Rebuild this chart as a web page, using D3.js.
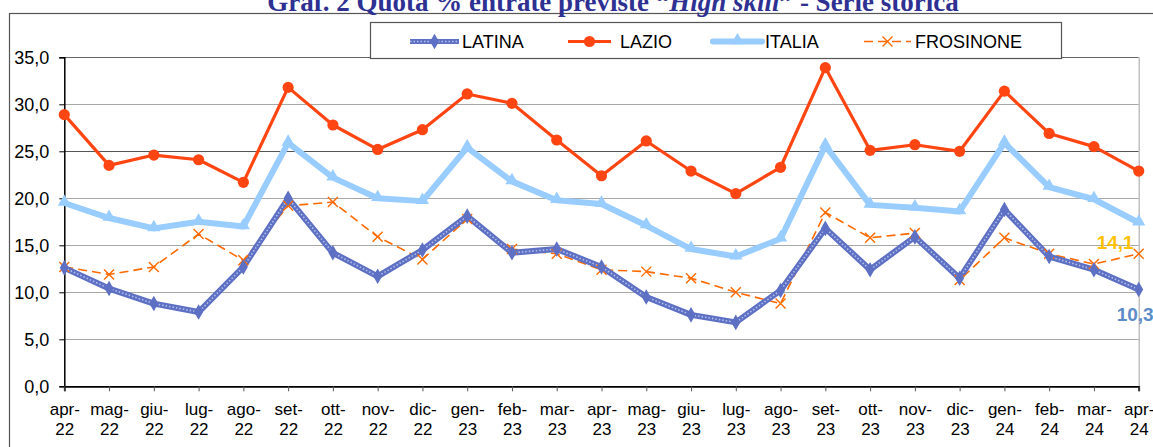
<!DOCTYPE html>
<html>
<head>
<meta charset="utf-8">
<script src="https://cdn.jsdelivr.net/npm/d3@7"></script>
<style>
  html, body { margin: 0; padding: 0; background: #fff; }
  svg { display: block; }
  text { font-family: "Liberation Sans", Arial, sans-serif; }
</style>
</head>
<body>
<svg id="chart" width="1153" height="447"></svg>
<script>
// ---- DATA ----
const months = ["apr-22","mag-22","giu-22","lug-22","ago-22","set-22","ott-22","nov-22","dic-22",
                "gen-23","feb-23","mar-23","apr-23","mag-23","giu-23","lug-23","ago-23","set-23",
                "ott-23","nov-23","dic-23","gen-24","feb-24","mar-24","apr-24"];
const latina    = [12.6,10.4,8.8,7.9,12.7,20.0,14.2,11.7,14.5,18.1,14.2,14.6,12.7,9.5,7.6,6.8,10.2,16.8,12.4,15.9,11.5,18.8,13.8,12.4,10.3];
const lazio     = [28.9,23.5,24.6,24.1,21.7,31.8,27.8,25.2,27.3,31.1,30.1,26.2,22.4,26.1,22.9,20.5,23.3,33.9,25.1,25.7,25.0,31.4,26.9,25.5,22.9];
const italia    = [19.5,17.9,16.8,17.5,17.0,25.9,22.2,20.0,19.7,25.4,21.8,19.8,19.4,17.1,14.6,13.8,15.7,25.6,19.3,19.0,18.6,25.9,21.2,19.9,17.4];
const frosinone = [12.7,11.9,12.7,16.2,13.4,19.2,19.6,15.9,13.5,17.8,14.6,14.1,12.4,12.2,11.5,10.0,8.8,18.5,15.8,16.3,11.3,15.8,14.1,13.0,14.1];
const yTicks = [0,5,10,15,20,25,30,35];
const seriesNames = ["LATINA","LAZIO","ITALIA","FROSINONE"];
const titleParts = [
  {t:"Graf. 2  Quota  % entrate previste  \u201C", it:false},
  {t:"High skill", it:true},
  {t:"\u201D  - Serie storica", it:false}
];

// ---- LAYOUT ----
const svg = d3.select("#chart");
const X0 = 64.3, X1 = 1138.7, Y0 = 386.3, Y1 = 57.3;
const x = d3.scalePoint().domain(months).range([X0, X1]).padding(0);
const y = d3.scaleLinear().domain([0, 35]).range([Y0, Y1]);

// outer frame
svg.append("rect").attr("x", 9.5).attr("y", 13.5).attr("width", 1200).attr("height", 500)
  .attr("fill", "none").attr("stroke", "#555").attr("stroke-width", 1.2);

// title (cut at the top edge, as in the reference)
const title = svg.append("text").attr("x", 613).attr("y", 11).attr("text-anchor", "middle")
  .style("font-family", "'Liberation Serif','Times New Roman',serif")
  .style("font-weight", "bold").style("font-size", "27px").attr("fill", "#2e3192");
titleParts.forEach(p => title.append("tspan").text(p.t).style("font-style", p.it ? "italic" : "normal"));

// gridlines
svg.append("g").selectAll("line").data(yTicks.filter(d => d > 0)).join("line")
  .attr("x1", X0).attr("x2", X1)
  .attr("y1", d => Math.round(y(d)) + 0.5).attr("y2", d => Math.round(y(d)) + 0.5)
  .attr("stroke", d => d === 25 ? "#555" : (d === 35 ? "#666" : "#a8a8a8"))
  .attr("stroke-width", 1.2);
// right border
svg.append("line").attr("x1", X1 + 0.5).attr("x2", X1 + 0.5).attr("y1", Y1).attr("y2", Y0)
  .attr("stroke", "#b0b0b0").attr("stroke-width", 1.2);

// y axis
const yAxis = d3.axisLeft(y).tickValues(yTicks).tickSize(5).tickPadding(10)
  .tickFormat(d => d3.format(".1f")(d).replace(".", ","));
const gy = svg.append("g").attr("transform", `translate(${X0},0)`).call(yAxis);
gy.select(".domain").attr("stroke", "#000").attr("stroke-width", 1.5);
gy.selectAll(".tick line").attr("stroke", "#000");
gy.selectAll(".tick text").style("font-size", "18px").attr("fill", "#000");

// x axis
const xAxis = d3.axisBottom(x).tickSize(5).tickFormat("");
const gx = svg.append("g").attr("transform", `translate(0,${Y0})`).call(xAxis);
gx.select(".domain").attr("stroke", "#000").attr("stroke-width", 1.8);
gx.selectAll(".tick line").attr("stroke", "#555");
gx.selectAll(".tick").append("text").attr("fill", "#000").attr("text-anchor", "middle")
  .style("font-size", "17px")
  .each(function(d) {
    const parts = d.split("-");
    const t = d3.select(this);
    t.append("tspan").attr("x", 0).attr("y", 29).text(parts[0] + "-");
    t.append("tspan").attr("x", 0).attr("y", 49).text(parts[1]);
  });

// ---- SERIES ----
const line = d3.line().x((d, i) => x(months[i])).y(d => y(d));
const plot = svg.append("g");

// ITALIA
plot.append("path").datum(italia).attr("d", line).attr("fill", "none")
  .attr("stroke", "#99ccff").attr("stroke-width", 6).attr("stroke-linejoin", "round");
// FROSINONE
plot.append("path").datum(frosinone).attr("d", line).attr("fill", "none")
  .attr("stroke", "#ff6a00").attr("stroke-width", 1.6).attr("stroke-dasharray", "9,5");
// LATINA
plot.append("path").datum(latina).attr("d", line).attr("fill", "none")
  .attr("stroke", "#5d70c4").attr("stroke-width", 6).attr("stroke-linejoin", "round");
plot.append("path").datum(latina).attr("d", line).attr("fill", "none")
  .attr("stroke", "#b4c0ea").attr("stroke-width", 1.6).attr("stroke-dasharray", "1.5,2");
// LAZIO
plot.append("path").datum(lazio).attr("d", line).attr("fill", "none")
  .attr("stroke", "#ff4612").attr("stroke-width", 3.2).attr("stroke-linejoin", "round");

const tri = d3.symbol().type(d3.symbolTriangle).size(75);
const dia = d3.symbol().type(d3.symbolDiamond).size(70);

plot.append("g").selectAll("path").data(italia).join("path")
  .attr("d", tri).attr("fill", "#99ccff")
  .attr("transform", (d, i) => `translate(${x(months[i])},${y(d) - 1})`);
plot.append("g").selectAll("path").data(frosinone).join("path")
  .attr("d", "M-5,-5L5,5M-5,5L5,-5").attr("stroke", "#ff6a00").attr("stroke-width", 1.4).attr("fill", "none")
  .attr("transform", (d, i) => `translate(${x(months[i])},${y(d)})`);
plot.append("g").selectAll("path").data(latina).join("path")
  .attr("d", dia).attr("fill", "#5d70c4")
  .attr("transform", (d, i) => `translate(${x(months[i])},${y(d)})`);
plot.append("g").selectAll("circle").data(lazio).join("circle")
  .attr("cx", (d, i) => x(months[i])).attr("cy", d => y(d)).attr("r", 5.6).attr("fill", "#ff4612");

// end labels
const last = months.length - 1;
svg.append("text").attr("x", x(months[last]) - 5).attr("y", y(frosinone[last]) - 5)
  .attr("text-anchor", "end").style("font-size", "19px").style("font-weight", "bold")
  .attr("fill", "#ffc000").text(d3.format(".1f")(frosinone[last]).replace(".", ","));
svg.append("text").attr("x", x(months[last]) - 22).attr("y", y(latina[last]) + 32)
  .attr("text-anchor", "start").style("font-size", "19px").style("font-weight", "bold")
  .attr("fill", "#5b8bc8").text(d3.format(".1f")(latina[last]).replace(".", ","));

// ---- LEGEND ----
const lg = svg.append("g");
lg.append("rect").attr("x", 370.5).attr("y", 22.5).attr("width", 691).attr("height", 36)
  .attr("fill", "#fff").attr("stroke", "#555").attr("stroke-width", 1.2);
const legendX = [410, 568, 713, 864];
const ly = 41.5;
seriesNames.forEach((name, k) => {
  const g = lg.append("g").attr("transform", `translate(${legendX[k]},${ly})`);
  if (k === 0) {
    g.append("line").attr("x1", 0).attr("x2", 49).attr("stroke", "#5d70c4").attr("stroke-width", 5);
    g.append("line").attr("x1", 0).attr("x2", 49).attr("stroke", "#b4c0ea").attr("stroke-width", 1.4).attr("stroke-dasharray", "1.5,2");
    g.append("path").attr("d", dia).attr("fill", "#5d70c4").attr("transform", "translate(24.5,0)");
  } else if (k === 1) {
    g.append("line").attr("x1", 0).attr("x2", 43).attr("stroke", "#ff4612").attr("stroke-width", 3.2);
    g.append("circle").attr("cx", 21.5).attr("r", 5.6).attr("fill", "#ff4612");
  } else if (k === 2) {
    g.append("line").attr("x1", 0).attr("x2", 49).attr("stroke", "#99ccff").attr("stroke-width", 6).attr("stroke-linecap", "round");
    g.append("path").attr("d", tri).attr("fill", "#99ccff").attr("transform", "translate(24.5,-1)");
  } else {
    g.append("line").attr("x1", 0).attr("x2", 47).attr("stroke", "#ff6a00").attr("stroke-width", 1.6).attr("stroke-dasharray", "9,5");
    g.append("path").attr("d", "M-5,-5L5,5M-5,5L5,-5").attr("stroke", "#ff6a00").attr("stroke-width", 1.4)
      .attr("transform", "translate(23.5,0)");
  }
  const tx = [462, 620, 765, 915][k];
  lg.append("text").attr("x", tx).attr("y", ly + 6.5).style("font-size", "18px").attr("fill", "#000").text(name);
});
</script>
</body>
</html>
